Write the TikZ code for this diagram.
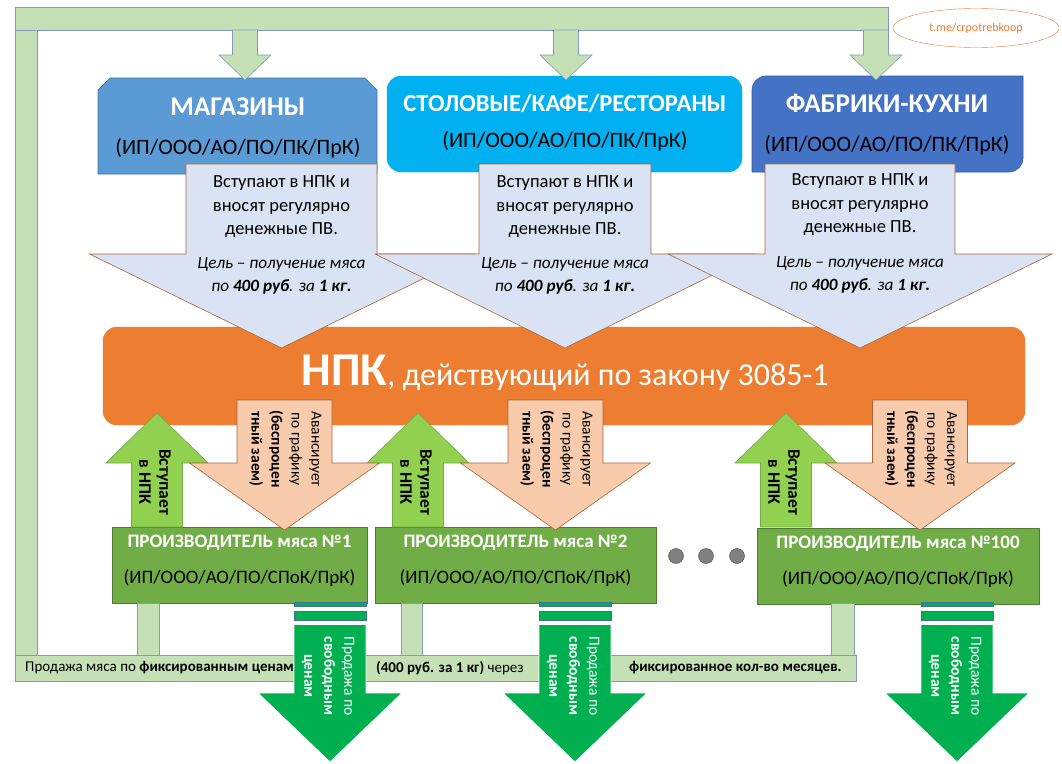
\documentclass[tikz,border=0pt]{standalone}
\usepackage{fontspec}
\setmainfont{Carlito}
\usepackage{xcolor}
\usepackage{tikz}
\usetikzlibrary{shapes.geometric}

\definecolor{frameg}{HTML}{C5E0B4}
\definecolor{frameline}{HTML}{7F9CC0}
\definecolor{shopb}{HTML}{5B9BD5}
\definecolor{cafeb}{HTML}{00B0F0}
\definecolor{factb}{HTML}{4472C4}
\definecolor{paleb}{HTML}{DAE3F3}
\definecolor{brn}{HTML}{A8653A}
\definecolor{orng}{HTML}{ED7D31}
\definecolor{upg}{HTML}{92D050}
\definecolor{peach}{HTML}{F8CBAD}
\definecolor{prodg}{HTML}{70AD47}
\definecolor{dkg}{HTML}{00B050}
\definecolor{stripeline}{HTML}{41719C}

% block arrow: [style]{x of centre}{y of tail}{y of neck}{y of tip}{half shaft}{half head}
\newcommand{\blockarrow}[7][]{%
  \draw[#1] ({#2-#6},#3) -- ({#2+#6},#3) -- ({#2+#6},#4) -- ({#2+#7},#4) -- (#2,#5)
    -- ({#2-#7},#4) -- ({#2-#6},#4) -- cycle;}

\begin{document}
\begin{tikzpicture}[x=1pt, y=-1pt,
  lbar/.style={draw=frameline, fill=frameg, line width=0.6pt},
  hd/.style={inner sep=0, text=white, font=\fontsize{27}{30}\selectfont\bfseries},
  sub/.style={inner sep=0, font=\fontsize{22}{26}\selectfont},
  barr/.style={draw=brn, fill=paleb, line width=0.6pt},
  btxt/.style={align=center, inner sep=0, font=\fontsize{18.5}{23.5}\selectfont},
  itxt/.style={align=center, inner sep=0, font=\fontsize{17.2}{23}\selectfont\itshape},
  uarr/.style={draw=prodg, fill=upg, line width=0.6pt},
  parr/.style={draw=brn, fill=peach, line width=0.6pt},
  rtxt/.style={rotate=-90, align=center, inner sep=0, font=\fontsize{15.5}{20}\selectfont},
  prod/.style={draw=prodg!70!black, fill=prodg, line width=0.6pt},
  ptitle/.style={inner sep=0, text=white, font=\fontsize{19}{22}\selectfont\bfseries},
  psub/.style={inner sep=0, font=\fontsize{19}{22}\selectfont},
  stxt/.style={inner sep=0, anchor=west, font=\fontsize{15}{18}\selectfont},
  stripe/.style={draw=stripeline, fill=dkg, line width=0.6pt},
  garr/.style={draw=white, fill=dkg, line width=0.8pt},
  dot/.style={circle, draw=black!75, fill=black!50, minimum size=15pt, inner sep=0}
]
\useasboundingbox[fill=white] (0,0) rectangle (1062,763);

% buyers
\draw[draw=stripeline, fill=shopb, line width=0.6pt] (98,174) -- (98,90) -- (110,78) -- (365,78)
  -- (377,90) -- (377,174) -- cycle;
\draw[draw=cafeb, fill=cafeb, rounded corners=14pt] (387,76) rectangle (742,172);
\draw[draw=factb!80!black, fill=factb, line width=0.6pt] (752,172) -- (752,90)
  arc[start angle=180, end angle=270, radius=14] -- (1023,76) -- (1023,158)
  arc[start angle=0, end angle=90, radius=14] -- cycle;
\node[hd] (shop) at (238,107) {МАГАЗИНЫ};
\node[sub] (shopsub) at (238,148) {(ИП/ООО/АО/ПО/ПК/ПрК)};
\node[hd, font=\fontsize{24.5}{28}\selectfont\bfseries] (cafe) at (565,103) {СТОЛОВЫЕ/КАФЕ/РЕСТОРАНЫ};
\node[sub] (cafesub) at (565,141) {(ИП/ООО/АО/ПО/ПК/ПрК)};
\node[hd] (fact) at (887,103) {ФАБРИКИ-КУХНИ};
\node[sub] (factsub) at (887,145) {(ИП/ООО/АО/ПО/ПК/ПрК)};

% frame on top
\draw[lbar] (15,7) rectangle (888,30);
\draw[lbar] (15,30) rectangle (37,655);
\blockarrow[lbar]{245}{30}{55}{80}{12.5}{26}
\blockarrow[lbar]{566}{30}{55}{80}{12.5}{26}
\blockarrow[lbar]{876}{30}{55}{80}{12.5}{26}

% NPK
\draw[fill=orng, draw=orng, rounded corners=14pt] (103,327) rectangle (1025,425);
\node[inner sep=0, text=white, font=\fontsize{32}{36}\selectfont] (npk) at (565,373)
  {{\fontsize{47}{47}\selectfont\bfseries НПК}, действующий по закону 3085-1};

% contributions
\blockarrow[barr]{281.5}{164}{254}{348}{95.5}{192}
\node[btxt] (in1) at (281.5,207) {Вступают в НПК и\\вносят регулярно\\денежные ПВ.};
\node[itxt] (goal1) at (281.5,276) {Цель -- получение мяса\\по \textbf{400 руб}. за \textbf{1 кг.}};
\blockarrow[barr]{565}{164}{254}{348}{86}{190}
\node[btxt] (in2) at (565,207) {Вступают в НПК и\\вносят регулярно\\денежные ПВ.};
\node[itxt] (goal2) at (565,276) {Цель -- получение мяса\\по \textbf{400 руб}. за \textbf{1 кг.}};
\blockarrow[barr]{860}{164}{254}{348}{95}{192}
\node[btxt] (in3) at (860,205) {Вступают в НПК и\\вносят регулярно\\денежные ПВ.};
\node[itxt] (goal3) at (860,275) {Цель -- получение мяса\\по \textbf{400 руб}. за \textbf{1 кг.}};

% producers
\draw[prod] (112,527) rectangle (367,603);
\draw[prod] (375,527) rectangle (656,603);
\draw[prod] (757,528) rectangle (1039,604);
\node[ptitle] (p1) at (239.5,543) {ПРОИЗВОДИТЕЛЬ мяса №1};
\node[psub] (p1sub) at (239.5,578) {(ИП/ООО/АО/ПО/СПоК/ПрК)};
\node[ptitle] (p2) at (515.5,543) {ПРОИЗВОДИТЕЛЬ мяса №2};
\node[psub] (p2sub) at (515.5,578) {(ИП/ООО/АО/ПО/СПоК/ПрК)};
\node[ptitle] (p3) at (898,544) {ПРОИЗВОДИТЕЛЬ мяса №100};
\node[psub] (p3sub) at (898,579) {(ИП/ООО/АО/ПО/СПоК/ПрК)};

\foreach \x/\n in {157/1, 418/2, 786/3} {
  \blockarrow[uarr]{\x}{527}{463}{413}{25.5}{51}
  \node[rtxt, font=\fontsize{17.5}{20}\selectfont\bfseries] (join\n) at (\x-2,482) {Вступает\\в НПК};
}
\foreach \x/\n in {284.5/1, 555.5/2, 920/3} {
  \blockarrow[parr]{\x}{400}{463}{530}{47.5}{95}
  \node[rtxt] (adv\n) at (\x+1,449) {Авансирует\\по графику\\\textbf{(беспроцен}\\\textbf{тный заем)}};
}

\node[dot] (d1) at (676,556) {};
\node[dot] (d2) at (706,556) {};
\node[dot] (d3) at (737,556) {};

% sale at fixed prices
\draw[lbar] (137,603) rectangle (159,655);
\draw[lbar] (401,603) rectangle (422,655);
\draw[lbar] (831,603) rectangle (854,655);
\draw[lbar] (15,655) rectangle (856,681);
\node[stxt] (fix1) at (25,668) {Продажа мяса по \textbf{фиксированным ценам}};
\node[stxt] (fix2) at (376,668) {\textbf{(400 руб. за 1 кг)} через};
\node[stxt] (fix3) at (629,668) {\textbf{фиксированное кол-во месяцев.}};

% sale at free prices
\foreach \x/\n in {330/1, 575/2, 957/3} {
  \draw[stripe] (\x-36,602) rectangle (\x+36,606.5);
  \draw[stripe] (\x-36,611) rectangle (\x+36,620);
  \blockarrow[garr]{\x}{624.5}{693}{762}{36}{72}
  \node[rtxt, text=white] (free\n) at (\x-2,676) {Продажа по\\\textbf{свободным}\\\textbf{ценам}};
}

\node[ellipse, draw=orng, fill=white, minimum width=166pt, minimum height=39pt, inner sep=0,
  text=orng, font=\fontsize{12}{14}\selectfont] (tg) at (976,28) {t.me/crpotrebkoop};
\end{tikzpicture}
\end{document}
